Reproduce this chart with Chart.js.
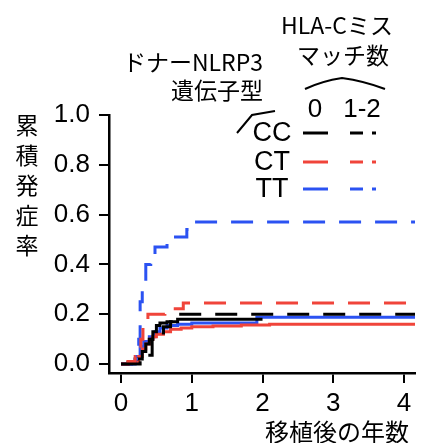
<!DOCTYPE html>
<html>
<head>
<meta charset="utf-8">
<script src="https://cdn.jsdelivr.net/npm/chart.js@4"></script>
<style>
  html, body { margin: 0; padding: 0; background: #fff; }
  canvas { display: block; }
</style>
</head>
<body>
<canvas id="ci-chart" width="421" height="443"></canvas>
<script>
// 移植後の年数 (x) と累積発症率 (y) — 図から読み取った値
const xTicks = [0, 1, 2, 3, 4];
const yTicks = [0, 0.2, 0.4, 0.6, 0.8, 1.0];
const genotypes = ['CC', 'CT', 'TT'];
const mismatchLabels = ['0', '1-2'];

// CC
const ccTime0 = [0, 0.1, 0.2, 0.3, 0.35, 0.4, 0.45, 0.5, 0.55, 0.65, 0.8, 2.0];
const ccRate0 = [0, 0.005, 0.02, 0.05, 0.08, 0.1, 0.13, 0.155, 0.165, 0.17, 0.18, 0.18];
const ccTime12 = [0, 0.27, 0.44, 0.5, 0.6, 0.7, 0.8, 4.16];
const ccRate12 = [0, 0.035, 0.1, 0.125, 0.15, 0.17, 0.2, 0.2];
// CT
const ctTime0 = [0, 0.1, 0.25, 0.3, 0.35, 0.4, 0.45, 0.5, 0.6, 0.7, 0.85, 1.0, 1.3, 1.7, 2.1, 4.16];
const ctRate0 = [0, 0.01, 0.03, 0.06, 0.08, 0.1, 0.11, 0.12, 0.13, 0.14, 0.145, 0.15, 0.153, 0.157, 0.16, 0.16];
const ctTime12 = [0, 0.1, 0.2, 0.28, 0.31, 0.38, 0.62, 0.88, 4.16];
const ctRate12 = [0, 0.01, 0.03, 0.1, 0.16, 0.2, 0.222, 0.245, 0.245];
// TT
const ttTime0 = [0, 0.15, 0.22, 0.27, 0.32, 0.4, 0.48, 0.55, 0.65, 0.8, 1.0, 1.92, 4.16];
const ttRate0 = [0, 0.005, 0.03, 0.07, 0.09, 0.11, 0.13, 0.145, 0.155, 0.16, 0.165, 0.188, 0.188];
const ttTime12 = [0, 0.2, 0.25, 0.27, 0.3, 0.35, 0.42, 0.48, 0.65, 0.93, 0.98, 4.16];
const ttRate12 = [0, 0.02, 0.1, 0.25, 0.3, 0.4, 0.44, 0.47, 0.51, 0.54, 0.57, 0.57];

const BLACK = '#000000';
const RED = '#F0443A';
const BLUE = '#2B52F2';
const DASH = [22, 14];
const NUM_FONT = '"Liberation Sans", Arial, sans-serif';
const JP_FONT = '"Noto Sans CJK JP", "Noto Sans", sans-serif';

function toPoints(times, rates) {
    return times.map((t, i) => ({ x: t, y: rates[i] }));
}

function series(label, times, rates, color, dashed) {
    return {
        label: label,
        data: toPoints(times, rates),
        borderColor: color,
        backgroundColor: color,
        borderWidth: 3,
        borderDash: dashed ? DASH : [],
        stepped: 'before',
        pointRadius: 0,
        fill: false
    };
}

/** Titles, y-label and the two-column legend drawn directly on the canvas */
const annotationPlugin = {
    id: 'annotations',
    afterDraw(chart) {
        const ctx = chart.ctx;
        ctx.save();
        ctx.fillStyle = '#000';
        ctx.textBaseline = 'middle';

        // y title, one character per line
        ctx.font = `23px ${JP_FONT}`;
        ctx.textAlign = 'center';
        const yTitle = '累積発症率';
        [...yTitle].forEach((ch, i) => ctx.fillText(ch, 27, 125 + i * 30));

        // x title
        ctx.font = `24px ${JP_FONT}`;
        ctx.textAlign = 'right';
        ctx.fillText('移植後の年数', 409, 432);

        // header texts
        ctx.font = `23px ${JP_FONT}`;
        ctx.textAlign = 'right';
        ctx.fillText('ドナーNLRP3', 263, 62);
        ctx.fillText('遺伝子型', 263, 90);
        ctx.textAlign = 'center';
        ctx.fillText('HLA-Cミス', 337, 25);
        ctx.fillText('マッチ数', 343, 55);

        // hat over the mismatch columns
        ctx.strokeStyle = '#000';
        ctx.lineWidth = 2;
        ctx.beginPath();
        ctx.moveTo(305, 89);
        ctx.quadraticCurveTo(322, 81, 342, 78);
        ctx.quadraticCurveTo(364, 81, 385, 89);
        ctx.stroke();

        // slash into the genotype column
        ctx.beginPath();
        ctx.moveTo(237, 133);
        ctx.lineTo(252, 115);
        ctx.lineTo(275, 111);
        ctx.stroke();

        ctx.font = `26px ${NUM_FONT}`;
        ctx.fillText(mismatchLabels[0], 315, 110);
        ctx.fillText(mismatchLabels[1], 362, 110);

        const colors = [BLACK, RED, BLUE];
        const rowY = [133, 162, 189];
        genotypes.forEach((g, i) => {
            ctx.fillStyle = '#000';
            ctx.textAlign = 'center';
            ctx.font = `27px ${NUM_FONT}`;
            ctx.fillText(g, 272, rowY[i] + 1);
            ctx.strokeStyle = colors[i];
            ctx.lineWidth = 3;
            ctx.setLineDash([]);
            ctx.beginPath();
            ctx.moveTo(303, rowY[i]);
            ctx.lineTo(328, rowY[i]);
            ctx.stroke();
            ctx.setLineDash([13, 9]);
            ctx.beginPath();
            ctx.moveTo(350, rowY[i]);
            ctx.lineTo(376, rowY[i]);
            ctx.stroke();
        });
        ctx.restore();
    }
};

const chartConfig = {
    type: 'line',
    data: {
        datasets: [
            series('CC 1-2', ccTime12, ccRate12, BLACK, true),
            series('CT 1-2', ctTime12, ctRate12, RED, true),
            series('TT 1-2', ttTime12, ttRate12, BLUE, true),
            series('CC 0', ccTime0, ccRate0, BLACK, false),
            series('CT 0', ctTime0, ctRate0, RED, false),
            series('TT 0', ttTime0, ttRate0, BLUE, false)
        ]
    },
    options: {
        responsive: false,
        animation: false,
        devicePixelRatio: 1,
        layout: { padding: { left: 0, right: 6, top: 115, bottom: 0 } },
        plugins: {
            legend: { display: false },
            tooltip: { enabled: false }
        },
        scales: {
            x: {
                type: 'linear',
                min: -0.17,
                max: 4.155,
                afterFit: s => { s.height = 70; },
                afterBuildTicks: s => { s.ticks = xTicks.map(v => ({ value: v })); },
                grid: { drawOnChartArea: false, drawTicks: true, tickLength: 10, color: '#000', lineWidth: 2 },
                border: { display: true, color: '#000', width: 2.5 },
                ticks: {
                    color: '#000',
                    font: { family: NUM_FONT, size: 26 },
                    padding: 5,
                    maxRotation: 0,
                    callback: v => String(v)
                }
            },
            y: {
                type: 'linear',
                min: -0.036,
                max: 1.0,
                afterFit: s => { s.width = 109; },
                afterBuildTicks: s => { s.ticks = yTicks.map(v => ({ value: v })); },
                grid: { drawOnChartArea: false, drawTicks: true, tickLength: 10, color: '#000', lineWidth: 2 },
                border: { display: true, color: '#000', width: 2.5 },
                ticks: {
                    color: '#000',
                    font: { family: NUM_FONT, size: 26 },
                    padding: 9,
                    callback: v => v.toFixed(1)
                }
            }
        }
    },
    plugins: [annotationPlugin]
};

const ctx = document.getElementById('ci-chart').getContext('2d');
new Chart(ctx, chartConfig);
</script>
</body>
</html>
